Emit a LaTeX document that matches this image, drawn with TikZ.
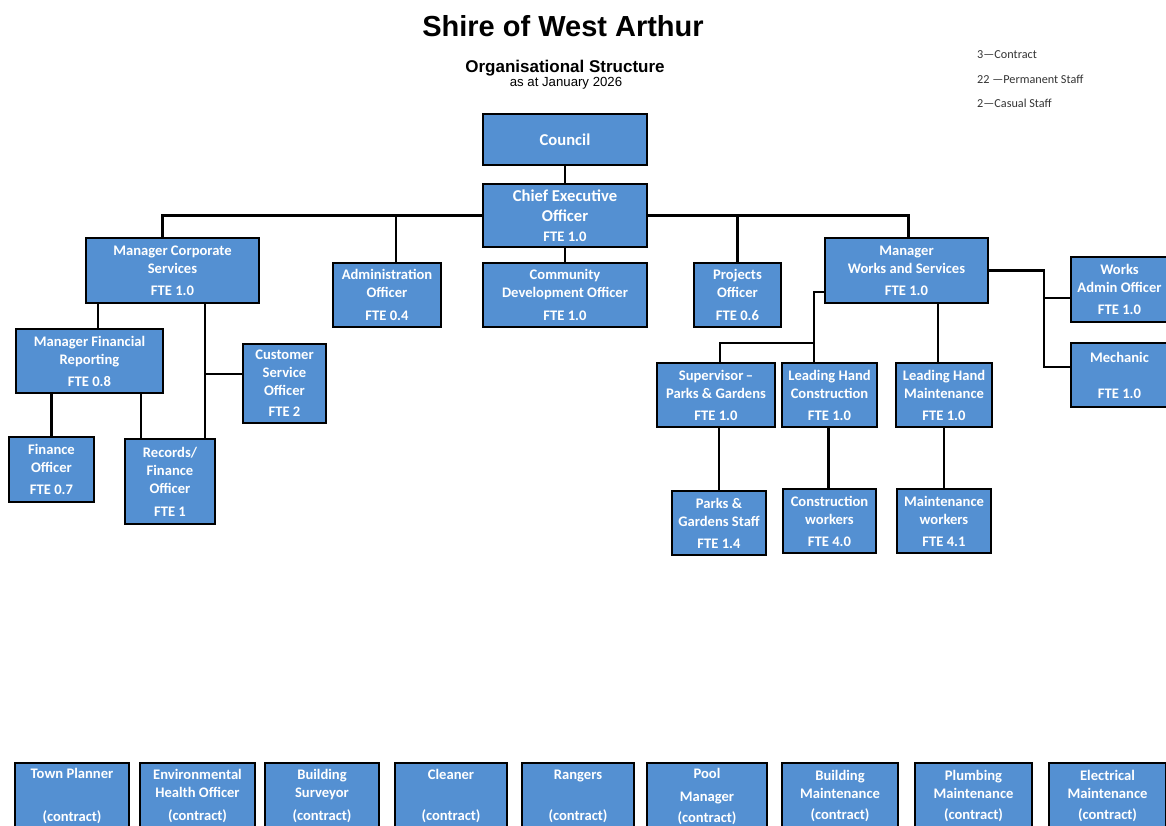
\documentclass[tikz,border=0pt]{standalone}
\usepackage{fontspec}
\setmainfont{Carlito}
\newfontfamily\headfont{Liberation Sans}
\usetikzlibrary{positioning}
\definecolor{roleblue}{RGB}{84,144,210}
\tikzset{%
  role/.style={rectangle,draw=black,fill=roleblue,line width=2.7pt,outer sep=0pt,text=white,align=center,inner sep=0pt,font=\fontsize{14.6}{18}\selectfont\bfseries},
  boss/.style={role,font=\fontsize{16.6}{20}\selectfont\bfseries},
  contract/.style={role,anchor=north},
  wh/.style 2 args={minimum width=#1pt,minimum height=#2pt},
  link/.style={draw=black,line width=2.4pt},
  legend/.style={anchor=base west,inner sep=0pt,text=black!80,font=\fontsize{12.2}{14}\selectfont}%
}

\begin{document}
\begin{tikzpicture}[x=1pt,y=-1pt]
      \useasboundingbox (0,0) rectangle (1166,825);
      \clip (0,0) rectangle (1166,825);

      % heading and legend
      \node (title) [anchor=base,inner sep=0pt] at (563,36) {\headfont\bfseries\fontsize{29}{34}\selectfont Shire of West Arthur};
      \node (subtitle) [anchor=base,inner sep=0pt] at (565,72) {\headfont\bfseries\fontsize{17}{20}\selectfont Organisational Structure};
      \node (asat) [anchor=base,inner sep=0pt] at (566,86) {\headfont\fontsize{13.2}{15}\selectfont as at January 2026};
      \node (nbcontract) [legend] at (977,58) {3---Contract};
      \node (nbpermanent) [legend] at (977,83) {22 ---Permanent Staff};
      \node (nbcasual) [legend] at (977,107) {2---Casual Staff};

      % top of the tree
      \node (ceo) [boss,wh={164}{63}] at (565,215.5) {Chief Executive\\Officer\\{\fontsize{14.6}{16}\selectfont FTE 1.0}};
      \node (council) [boss,wh={164}{51},above=19pt of ceo] {Council};
      \node (cdo) [role,wh={164}{64},below=16pt of ceo] {Community\\Development Officer\\[5pt]FTE 1.0};
      \node (admin) [role,wh={108}{64}] at (387,295) {Administration\\Officer\\[5pt]FTE 0.4};
      \node (projects) [role,wh={87}{64}] at (737.5,295) {Projects\\Officer\\[5pt]FTE 0.6};
      \node (mcs) [role,wh={173}{65}] at (172.5,270.5) {Manager Corporate\\Services\\[4pt]FTE 1.0};
      \node (mws) [role,wh={163}{65}] at (906.5,270.5) {Manager\\Works and Services\\[4pt]FTE 1.0};

      % corporate services
      \node (mfr) [role,wh={147}{64}] at (89.5,361) {Manager Financial\\Reporting\\[4pt]FTE 0.8};
      \node (cso) [role,wh={83}{79}] at (284.5,383.5) {Customer\\Service\\Officer\\[3pt]FTE 2};
      \node (finance) [role,wh={85}{65}] at (51.5,469.5) {Finance\\Officer\\[4pt]FTE 0.7};
      \node (records) [role,wh={90}{85}] at (170,481.5) {Records/\\Finance\\Officer\\[5pt]FTE 1};

      % works and services
      \node (worksadmin) [role,wh={97}{65}] at (1119.5,289.5) {Works\\Admin Officer\\[4pt]FTE 1.0};
      \node (mechanic) [role,wh={97}{64},below=21pt of worksadmin] {Mechanic\\[18pt]FTE 1.0};
      \node (supervisor) [role,wh={118}{64}] at (716,395) {Supervisor\,--\\Parks \& Gardens\\[4pt]FTE 1.0};
      \node (lhc) [role,wh={95}{64},right=7pt of supervisor] {Leading Hand\\Construction\\[4pt]FTE 1.0};
      \node (lhm) [role,wh={96}{64},right=19pt of lhc] {Leading Hand\\Maintenance\\[4pt]FTE 1.0};
      \node (pgstaff) [role,wh={94}{64},below=64pt of supervisor,xshift=3pt] {Parks \&\\Gardens Staff\\[4pt]FTE 1.4};
      \node (conworkers) [role,wh={93}{64},below=62pt of lhc] {Construction\\workers\\[4pt]FTE 4.0};
      \node (mtworkers) [role,wh={94}{64},below=62pt of lhm] {Maintenance\\workers\\[4pt]FTE 4.1};

      % contractors
      \node (townplanner) [contract,wh={114}{66}] at (72,763) {Town Planner\\[25pt](contract)};
      \node (envhealth) [contract,wh={115}{66}] at (197.5,763) {Environmental\\Health Officer\\[5pt](contract)};
      \node (bsurveyor) [contract,wh={114}{66}] at (322,763) {Building\\Surveyor\\[5pt](contract)};
      \node (cleaner) [contract,wh={112}{66}] at (451,763) {Cleaner\\[23pt](contract)};
      \node (rangers) [contract,wh={112}{66}] at (578,763) {Rangers\\[23pt](contract)};
      \node (pool) [contract,wh={120}{66}] at (707,763) {Pool\\[5pt]Manager\\[3pt](contract)};
      \node (bmaint) [contract,wh={116}{66}] at (840,763) {Building\\Maintenance\\[3pt](contract)};
      \node (plumbing) [contract,wh={117}{66}] at (973.5,763) {Plumbing\\Maintenance\\[3pt](contract)};
      \node (electrical) [contract,wh={117}{66}] at (1107.5,763) {Electrical\\Maintenance\\[3pt](contract)};

      % reporting lines
      \draw[link] (council) -- (council |- ceo.north);
      \draw[link] (ceo) -- (ceo |- cdo.north);
      \draw[link] (ceo.west) -| ([xshift=-10pt]mcs.north);
      \draw[link] (ceo.west) -| ([xshift=9pt]admin.north);
      \draw[link] (ceo.east) -| (projects.north);
      \draw[link] (ceo.east) -| ([xshift=2pt]mws.north);

      \draw[link] ([xshift=8.5pt]mfr.north) -- ([xshift=8.5pt]mfr.north |- mcs.south);
      \draw[link] ([xshift=35pt]records.north) -- ([xshift=35pt]records.north |- mcs.south);
      \draw[link] ([yshift=9.5pt]cso.west) -- ++(-38,0);
      \draw[link] (finance.north) -- (finance.north |- mfr.south);
      \draw[link] ([xshift=-29pt]records.north) -- ([xshift=-29pt]records.north |- mfr.south);

      \draw[link] ([xshift=-6pt]lhm.north) -- ([xshift=-6pt]lhm.north |- mws.south);
      \draw[link] ([yshift=-21.5pt]mws.west) -| ([xshift=-15.5pt]lhc.north);
      \draw[link] ([xshift=4pt]supervisor.north) |- ([xshift=-15.5pt,yshift=20pt]lhc.north);
      \draw[link] (mws.east) -- ++(56,0) |- ([yshift=8pt]mechanic.west);
      \draw[link] ([yshift=-8.5pt]worksadmin.west) -- ++(-27,0);
      \draw[link] (pgstaff.north) -- (pgstaff.north |- supervisor.south);
      \draw[link] ([xshift=-1pt]conworkers.north) -- ([xshift=-1pt]conworkers.north |- lhc.south);
      \draw[link] (mtworkers.north) -- (mtworkers.north |- lhm.south);

    \end{tikzpicture}
\end{document}
